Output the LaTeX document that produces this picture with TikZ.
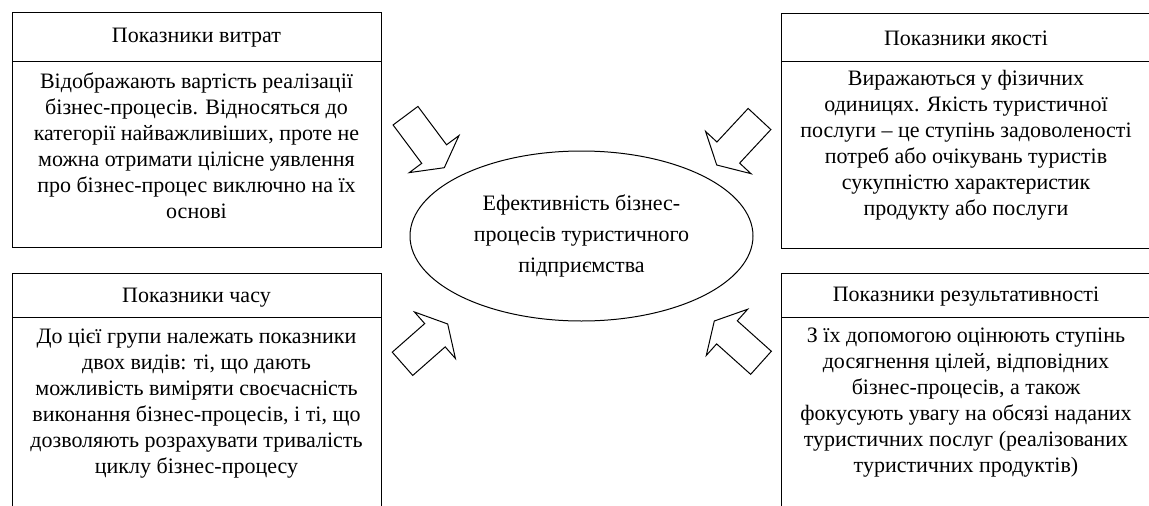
\documentclass[tikz,border=0pt]{standalone}
\usepackage{fontspec}
\setmainfont{Liberation Serif}
\usetikzlibrary{calc,shapes.geometric}
\newcommand\blockarrow[2]{%
  \coordinate (#1base) at ($(#2)!17pt!(#1)$);
  \draw[blockarr] ($(#1)!15.5pt!90:(#2)$) -- ($(#1base)!15.5pt!90:(#2)$)
    -- ($(#1base)!31pt!90:(#2)$) -- (#2) -- ($(#1base)!31pt!-90:(#2)$)
    -- ($(#1base)!15.5pt!-90:(#2)$) -- ($(#1)!15.5pt!-90:(#2)$) -- cycle;}
\begin{document}
\begin{tikzpicture}[x=1pt,y=-1pt,
  frame/.style={line width=1pt},
  hdr/.style={font=\fontsize{22}{26}\selectfont, inner sep=0pt},
  body/.style={font=\fontsize{22}{26}\selectfont, align=center, inner sep=0pt},
  blockarr/.style={line width=1pt, line join=miter}]
\useasboundingbox (0,0) rectangle (1149,506);
\fill[white] (0,0) rectangle (1149,506);
% top-left box
\draw[frame] (12,12) rectangle (381,247);
\draw[frame] (12,61) -- (381,61);
\node[hdr] (h1) at (196.5,38) {Показники витрат};
\node[body] (b1) at (196.5,146) {Відображають вартість реалізації\\бізнес-процесів. Відносяться до\\категорії найважливіших, проте не\\можна отримати цілісне уявлення\\про бізнес-процес виключно на їх\\основі};
% top-right box
\draw[frame] (1149,13) -- (781,13) -- (781,248) -- (1149,248);
\draw[frame] (781,61) -- (1149,61);
\node[hdr] (h2) at (966,38) {Показники якості};
\node[body] (b2) at (966,145) {Виражаються у фізичних\\одиницях. Якість туристичної\\послуги – це ступінь задоволеності\\потреб або очікувань туристів\\сукупністю характеристик\\продукту або послуги};
% bottom-left box
\draw[frame] (12,506) -- (12,273) -- (381,273) -- (381,506);
\draw[frame] (12,317) -- (381,317);
\node[hdr] (h3) at (196.5,298) {Показники часу};
\node[body] (b3) at (196.5,404) {До цієї групи належать показники\\двох видів: ті, що дають\\можливість виміряти своєчасність\\виконання бізнес-процесів, і ті, що\\дозволяють розрахувати тривалість\\циклу бізнес-процесу};
% bottom-right box
\draw[frame] (781,506) -- (781,273) -- (1149,273);
\draw[frame] (781,317) -- (1149,317);
\node[hdr] (h4) at (966,297) {Показники результативності};
\node[body] (b4) at (966,403) {З їх допомогою оцінюють ступінь\\досягнення цілей, відповідних\\бізнес-процесів, а також\\фокусують увагу на обсязі наданих\\туристичних послуг (реалізованих\\туристичних продуктів)};
% centre ellipse
\node[ellipse, draw, line width=1pt, minimum width=343, minimum height=170, inner sep=0pt,
  font=\fontsize{22}{31}\selectfont, align=center] (eff) at (581.5,236)
  {Ефективність бізнес-\\процесів туристичного\\підприємства};
% block arrows
\coordinate (t1) at (405.5,115.7); \coordinate (p1) at (444.3,167.7);
\coordinate (t2) at (759.5,119);   \coordinate (p2) at (716.7,165);
\coordinate (t3) at (402.5,363.8); \coordinate (p3) at (447.7,324);
\coordinate (t4) at (761,362.8);   \coordinate (p4) at (714.3,321);
\blockarrow{t1}{p1}
\blockarrow{t2}{p2}
\blockarrow{t3}{p3}
\blockarrow{t4}{p4}
\end{tikzpicture}
\end{document}
